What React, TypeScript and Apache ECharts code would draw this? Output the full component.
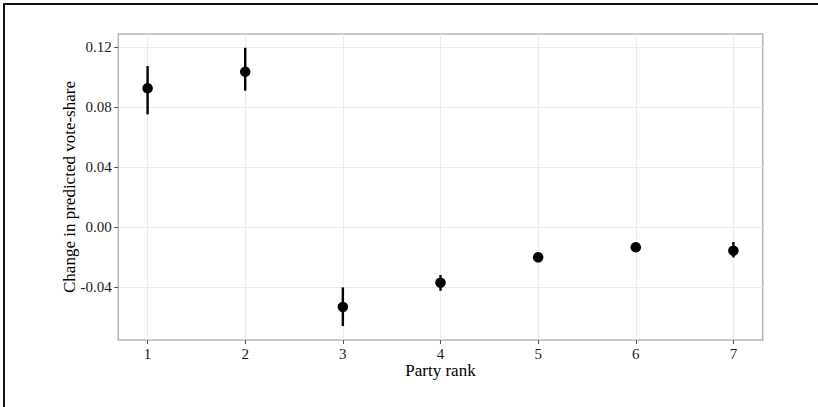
import React, { useEffect, useRef } from "react";
import * as echarts from "echarts";

const partyRanks = [1, 2, 3, 4, 5, 6, 7];
const estimates = [0.0923, 0.1033, -0.0535, -0.0373, -0.0204, -0.0137, -0.016];
const lowerBounds = [0.0749, 0.0907, -0.0662, -0.0427, -0.0214, -0.0147, -0.0205];
const upperBounds = [0.1071, 0.1193, -0.0404, -0.0322, -0.0194, -0.0127, -0.0102];
const yTicks = [-0.04, 0, 0.04, 0.08, 0.12];
const xTicks = [1, 2, 3, 4, 5, 6, 7];

const FONT = "Liberation Serif";

export default function App() {
  const ref = useRef<HTMLDivElement>(null);
  useEffect(() => {
    if (!ref.current) return;
    const chart = echarts.init(ref.current, null, { renderer: "svg" });
    const points = partyRanks.map((r, i) => [r, estimates[i]]);
    const bars = partyRanks.map((r, i) => [r, lowerBounds[i], upperBounds[i]]);
    chart.setOption({
      animation: false,
      backgroundColor: "#ffffff",
      textStyle: { fontFamily: FONT },
      grid: {
        left: 118.3,
        right: 55.3,
        top: 34,
        bottom: 67,
        show: true,
        borderColor: "#b5b5b5",
        borderWidth: 1.5,
        backgroundColor: "transparent",
      },
      xAxis: {
        type: "value",
        min: 0.7,
        max: 7.3,
        position: "bottom",
        name: "Party rank",
        nameLocation: "middle",
        nameGap: 22,
        nameMoveOverlap: false,
        nameTextStyle: { fontFamily: FONT, fontSize: 17, color: "#000" },
        axisLine: { show: false, onZero: false },
        axisTick: { show: true, length: 4, customValues: xTicks, lineStyle: { color: "#4d4d4d", width: 1 } },
        axisLabel: {
          customValues: xTicks,
          margin: 6,
          fontFamily: FONT,
          fontSize: 15,
          color: "#1a1a1a",
          formatter: (v: number) => String(v),
        },
        splitLine: { show: false },
      },
      yAxis: {
        type: "value",
        min: -0.0755,
        max: 0.1285,
        position: "left",
        name: "Change in predicted vote-share",
        nameLocation: "middle",
        nameGap: 40,
        nameMoveOverlap: false,
        nameTextStyle: { fontFamily: FONT, fontSize: 17, color: "#000" },
        axisLine: { show: false, onZero: false },
        axisTick: { show: true, length: 4, customValues: yTicks, lineStyle: { color: "#4d4d4d", width: 1 } },
        axisLabel: {
          customValues: yTicks,
          margin: 6.5,
          fontFamily: FONT,
          fontSize: 15,
          color: "#1a1a1a",
          formatter: (v: number) => v.toFixed(2),
        },
        splitLine: { show: false },
      },
      graphic: [
        { type: "line", shape: { x1: 3, y1: 4, x2: 818, y2: 4 }, style: { stroke: "#111", lineWidth: 2 } },
        { type: "line", shape: { x1: 4, y1: 3, x2: 4, y2: 407 }, style: { stroke: "#111", lineWidth: 2 } },
      ],
      series: [
        {
          type: "line",
          data: [],
          silent: true,
          z: 0,
          markLine: {
            silent: true,
            z: 0,
            symbol: ["none", "none"],
            label: { show: false },
            lineStyle: { color: "#ebebeb", width: 1, type: "solid" },
            data: [
              ...yTicks.map((v) => ({ yAxis: v })),
              ...xTicks.map((v) => ({ xAxis: v })),
            ],
          },
        },
        {
          type: "custom",
          z: 3,
          data: bars,
          renderItem: (params: any, api: any) => {
            const x = api.value(0);
            const lo = api.coord([x, api.value(1)]);
            const hi = api.coord([x, api.value(2)]);
            return {
              type: "line",
              shape: { x1: lo[0], y1: lo[1], x2: hi[0], y2: hi[1] },
              style: { stroke: "#000", lineWidth: 2.4 },
            };
          },
        },
        {
          type: "scatter",
          z: 4,
          symbol: "circle",
          symbolSize: 10.5,
          itemStyle: { color: "#000", opacity: 1 },
          data: points,
        },
      ],
    });
    return () => chart.dispose();
  }, []);
  return <div ref={ref} style={{ position: "absolute", left: 0, top: 0, width: 818, height: 407 }} />;
}
